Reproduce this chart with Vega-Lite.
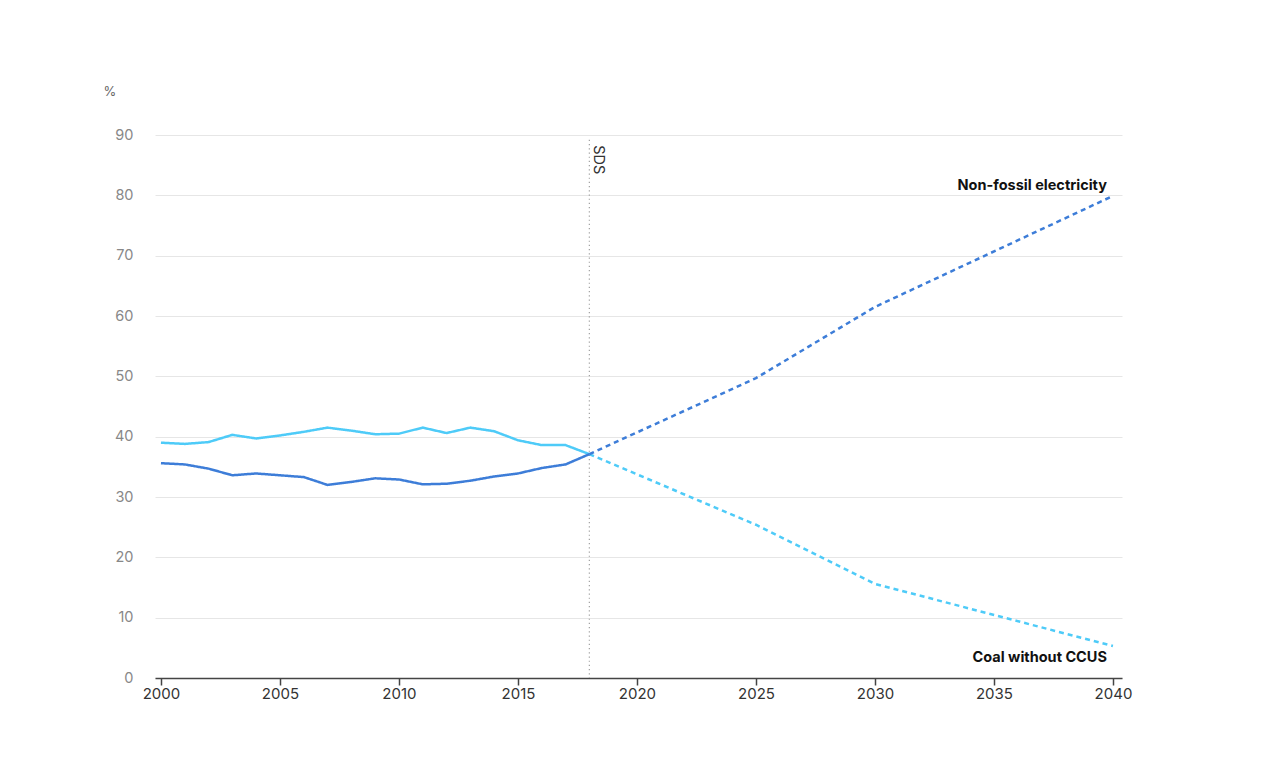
{
  "$schema": "https://vega.github.io/schema/vega-lite/v6.json",
  "autosize": {"type": "none"},
  "width": 967,
  "height": 543,
  "padding": {"left": 155, "top": 135, "right": 158, "bottom": 89},
  "background": "white",
  "config": {
    "font": "Inter",
    "view": {"stroke": null},
    "axis": {"labelFont": "Inter", "titleFont": "Inter"}
  },
  "datasets": {
    "series": [
      {"year": 2000, "value": 39.0, "series": "Coal without CCUS", "phase": "hist"},
      {"year": 2001, "value": 38.8, "series": "Coal without CCUS", "phase": "hist"},
      {"year": 2002, "value": 39.1, "series": "Coal without CCUS", "phase": "hist"},
      {"year": 2003, "value": 40.3, "series": "Coal without CCUS", "phase": "hist"},
      {"year": 2004, "value": 39.7, "series": "Coal without CCUS", "phase": "hist"},
      {"year": 2005, "value": 40.2, "series": "Coal without CCUS", "phase": "hist"},
      {"year": 2006, "value": 40.8, "series": "Coal without CCUS", "phase": "hist"},
      {"year": 2007, "value": 41.5, "series": "Coal without CCUS", "phase": "hist"},
      {"year": 2008, "value": 41.0, "series": "Coal without CCUS", "phase": "hist"},
      {"year": 2009, "value": 40.4, "series": "Coal without CCUS", "phase": "hist"},
      {"year": 2010, "value": 40.5, "series": "Coal without CCUS", "phase": "hist"},
      {"year": 2011, "value": 41.5, "series": "Coal without CCUS", "phase": "hist"},
      {"year": 2012, "value": 40.6, "series": "Coal without CCUS", "phase": "hist"},
      {"year": 2013, "value": 41.5, "series": "Coal without CCUS", "phase": "hist"},
      {"year": 2014, "value": 40.9, "series": "Coal without CCUS", "phase": "hist"},
      {"year": 2015, "value": 39.4, "series": "Coal without CCUS", "phase": "hist"},
      {"year": 2016, "value": 38.6, "series": "Coal without CCUS", "phase": "hist"},
      {"year": 2017, "value": 38.6, "series": "Coal without CCUS", "phase": "hist"},
      {"year": 2018, "value": 37.1, "series": "Coal without CCUS", "phase": "hist"},
      {"year": 2018, "value": 37.1, "series": "Coal without CCUS", "phase": "proj"},
      {"year": 2025, "value": 25.4, "series": "Coal without CCUS", "phase": "proj"},
      {"year": 2030, "value": 15.6, "series": "Coal without CCUS", "phase": "proj"},
      {"year": 2040, "value": 5.3, "series": "Coal without CCUS", "phase": "proj"},
      {"year": 2000, "value": 35.6, "series": "Non-fossil electricity", "phase": "hist"},
      {"year": 2001, "value": 35.4, "series": "Non-fossil electricity", "phase": "hist"},
      {"year": 2002, "value": 34.7, "series": "Non-fossil electricity", "phase": "hist"},
      {"year": 2003, "value": 33.6, "series": "Non-fossil electricity", "phase": "hist"},
      {"year": 2004, "value": 33.9, "series": "Non-fossil electricity", "phase": "hist"},
      {"year": 2005, "value": 33.6, "series": "Non-fossil electricity", "phase": "hist"},
      {"year": 2006, "value": 33.3, "series": "Non-fossil electricity", "phase": "hist"},
      {"year": 2007, "value": 32.0, "series": "Non-fossil electricity", "phase": "hist"},
      {"year": 2008, "value": 32.5, "series": "Non-fossil electricity", "phase": "hist"},
      {"year": 2009, "value": 33.1, "series": "Non-fossil electricity", "phase": "hist"},
      {"year": 2010, "value": 32.9, "series": "Non-fossil electricity", "phase": "hist"},
      {"year": 2011, "value": 32.1, "series": "Non-fossil electricity", "phase": "hist"},
      {"year": 2012, "value": 32.2, "series": "Non-fossil electricity", "phase": "hist"},
      {"year": 2013, "value": 32.7, "series": "Non-fossil electricity", "phase": "hist"},
      {"year": 2014, "value": 33.4, "series": "Non-fossil electricity", "phase": "hist"},
      {"year": 2015, "value": 33.9, "series": "Non-fossil electricity", "phase": "hist"},
      {"year": 2016, "value": 34.8, "series": "Non-fossil electricity", "phase": "hist"},
      {"year": 2017, "value": 35.4, "series": "Non-fossil electricity", "phase": "hist"},
      {"year": 2018, "value": 37.1, "series": "Non-fossil electricity", "phase": "hist"},
      {"year": 2018, "value": 37.1, "series": "Non-fossil electricity", "phase": "proj"},
      {"year": 2025, "value": 49.7, "series": "Non-fossil electricity", "phase": "proj"},
      {"year": 2030, "value": 61.5, "series": "Non-fossil electricity", "phase": "proj"},
      {"year": 2040, "value": 79.9, "series": "Non-fossil electricity", "phase": "proj"}
    ],
    "labels": [
      {"year": 2040, "value": 81.6, "text": "Non-fossil electricity"},
      {"year": 2040, "value": 3.3, "text": "Coal without CCUS"}
    ],
    "marker": [
      {"year": 2018, "top": 89.2, "bottom": 0, "textpos": 88.3, "text": "SDS"}
    ]
  },
  "layer": [
    {
      "data": {"name": "marker"},
      "mark": {"type": "rule", "color": "#a0a0a0", "strokeWidth": 1.2, "strokeDash": [1.2, 3]},
      "encoding": {
        "x": {"field": "year", "type": "quantitative", "scale": {"domain": [1999.75, 2040.38], "nice": false, "zero": false},
          "axis": {"values": [2000, 2005, 2010, 2015, 2020, 2025, 2030, 2035, 2040], "format": "d", "title": null, "grid": false,
            "domainColor": "#444", "domainWidth": 1.5, "tickColor": "#444", "tickWidth": 1.5, "tickSize": 7,
            "labelColor": "#333", "labelFontSize": 15, "labelPadding": 1, "labelFlush": false}},
        "y": {"field": "top", "type": "quantitative", "scale": {"domain": [0, 90], "nice": false},
          "axis": {"values": [0, 10, 20, 30, 40, 50, 60, 70, 80, 90], "title": "%", "titleAngle": 0, "titleAlign": "left",
            "titleBaseline": "middle", "titleX": -52, "titleY": -44, "titleFontSize": 13, "titleFontWeight": "normal", "titleColor": "#666",
            "domain": false, "ticks": false, "labelPadding": 22, "labelColor": "#888", "labelFontSize": 14.5,
            "gridColor": "#e6e6e6", "gridWidth": 1}},
        "y2": {"field": "bottom"}
      }
    },
    {
      "data": {"name": "marker"},
      "mark": {"type": "text", "angle": 90, "align": "left", "baseline": "bottom", "dy": -2, "fontSize": 14.5, "color": "#333"},
      "encoding": {
        "x": {"field": "year", "type": "quantitative"},
        "y": {"field": "textpos", "type": "quantitative"},
        "text": {"field": "text"}
      }
    },
    {
      "data": {"name": "series"},
      "mark": {"type": "line", "strokeWidth": 2.5},
      "encoding": {
        "x": {"field": "year", "type": "quantitative"},
        "y": {"field": "value", "type": "quantitative"},
        "color": {"field": "series", "type": "nominal", "scale": {"domain": ["Non-fossil electricity", "Coal without CCUS"], "range": ["#3d7dd8", "#4ecbf8"]}, "legend": null},
        "strokeDash": {"field": "phase", "type": "nominal", "scale": {"domain": ["hist", "proj"], "range": [[1, 0], [5, 4]]}, "legend": null},
        "order": {"field": "year", "type": "quantitative"}
      }
    },
    {
      "data": {"name": "labels"},
      "mark": {"type": "text", "align": "right", "baseline": "middle", "dx": -6, "fontSize": 14.5, "fontWeight": "bold", "color": "#111"},
      "encoding": {
        "x": {"field": "year", "type": "quantitative"},
        "y": {"field": "value", "type": "quantitative"},
        "text": {"field": "text"}
      }
    }
  ]
}
